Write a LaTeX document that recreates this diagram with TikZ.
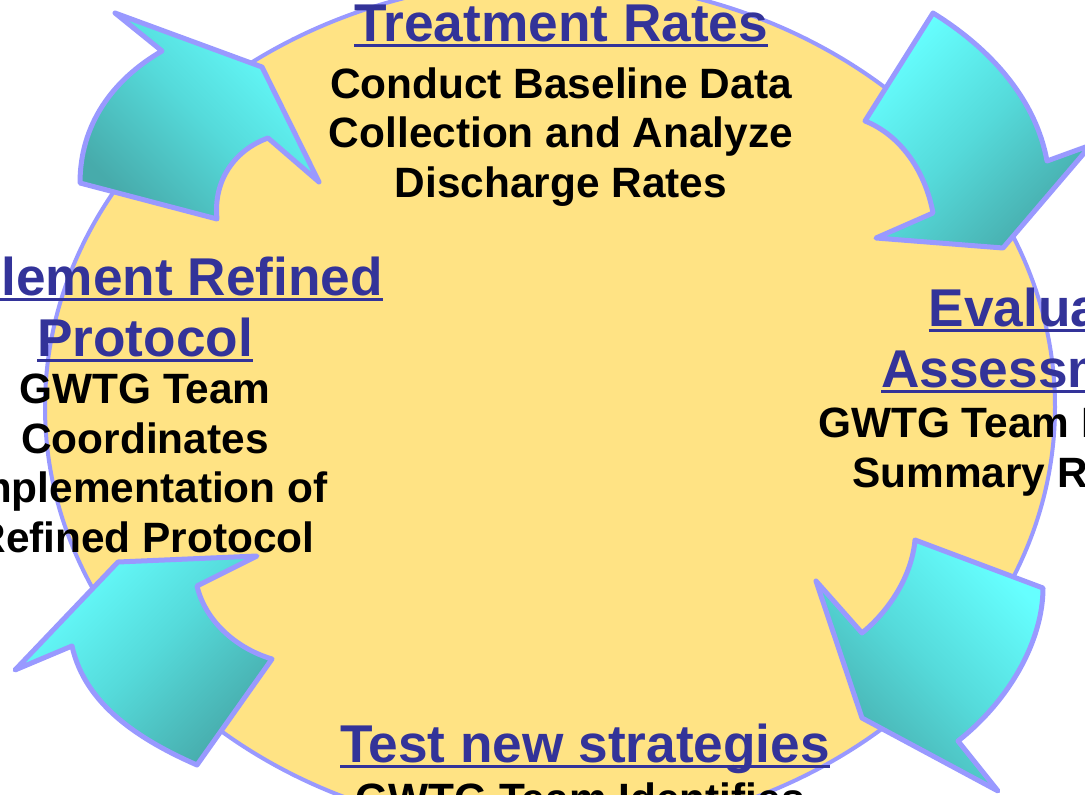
\documentclass[tikz,border=0pt]{standalone}
\usepackage{fontspec}
\setmainfont{Liberation Sans}
\usetikzlibrary{positioning}

\definecolor{discyellow}{HTML}{FFE384}
\definecolor{lavender}{HTML}{9999FF}
\definecolor{titleblue}{HTML}{333399}
\definecolor{tealhi}{HTML}{66FFFF}
\definecolor{tealmid}{HTML}{55DADA}
\definecolor{tealdk}{HTML}{47ABAB}

% underline that runs through the descenders, as in the slide
\newcommand\ulin[1]{\setbox0\hbox{#1}\rlap{\rule[-0.12em]{\wd0}{0.055em}}\box0}

\begin{document}
\begin{tikzpicture}[x=1pt,y=-1pt]
                \tikzstyle{cyclearrow}=[draw=lavender, line width=5pt, line join=round, top color=tealhi, bottom color=tealdk, middle color=tealmid]
                \tikzstyle{ttl}=[font=\fontsize{53.2}{61}\selectfont\bfseries, text=titleblue, align=center, anchor=base, inner sep=0pt]
                \tikzstyle{bodytxt}=[font=\fontsize{42.4}{49.5}\selectfont\bfseries, align=center, anchor=base, inner sep=0pt]

                \useasboundingbox (0,0) rectangle (1085,795);
                \clip (0,0) rectangle (1085,795);

                \draw[fill=discyellow, draw=lavender, line width=4pt] (550,407) ellipse [x radius=505pt, y radius=427pt];

                % the four arrows of the cycle
                \draw[cyclearrow, shading angle=-45] (262,67) -- (115,13) -- (162,51) .. controls (112,80) and (80,125) .. (80,183) -- (217,219) .. controls (213,180) and (235,150) .. (268,138) -- (319,182) -- cycle;
                \draw[cyclearrow, shading angle=45] (933,13) .. controls (985,45) and (1035,95) .. (1047,161) -- (1091,145) -- (1003,248) -- (876,238) -- (933,213) .. controls (925,170) and (900,135) .. (865,121) -- cycle;
                \draw[cyclearrow, shading angle=-45] (915,540) -- (1043,588) .. controls (1043,640) and (1010,700) .. (958,741) -- (998,791) -- (862,718) -- (816,581) -- (862,633) .. controls (890,610) and (912,575) .. (915,540) -- cycle;
                \draw[cyclearrow, shading angle=45] (272,659) -- (197,765) .. controls (140,740) and (85,705) .. (72,646) -- (15,670) -- (118,562) -- (257,556) -- (197,586) .. controls (205,620) and (235,648) .. (272,659) -- cycle;

                % texts (base = baseline of the last line)
                \node[ttl] (treatttl) at (561,41) {\ulin{Treatment Rates}};
                \node[bodytxt] (treatbody) at (561,197) {Conduct Baseline Data\\Collection and Analyze\\Discharge Rates};

                \node[ttl] (implttl) at (145,356) {\ulin{Implement Refined}\\\ulin{Protocol}};
                \node[bodytxt] (implbody) at (145,552) {GWTG Team\\Coordinates\\Implementation of\\Refined Protocol};

                \node[ttl] (evalttl) at (1038,387) {\ulin{Evaluate}\\\ulin{Assessment}};
                \node[bodytxt, anchor=base west] (evalbodya) at (818,437) {GWTG Team Reviews};
                \node[bodytxt, anchor=base west] (evalbodyb) at (852,487) {Summary Report};

                \node[ttl] (testttl) at (585,762) {\ulin{Test new strategies}};
                \node[bodytxt] (testbody) at (580,813) {GWTG Team Identifies};
\end{tikzpicture}
\end{document}
